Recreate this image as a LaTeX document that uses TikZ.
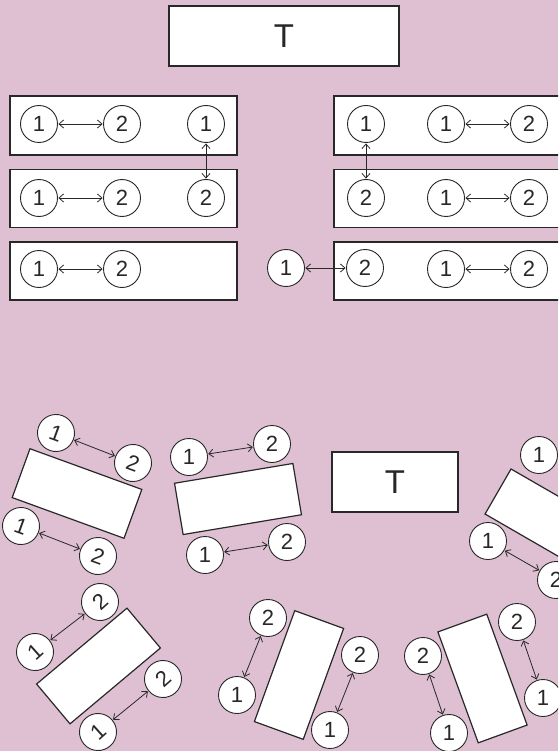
\documentclass[tikz,border=0pt]{standalone}
\usepackage{fontspec}
\setmainfont{Liberation Sans}
\usetikzlibrary{arrows.meta}
\definecolor{bgpink}{RGB}{222,192,210}
\definecolor{ink}{RGB}{40,40,40}
\tikzset{
  tbl/.style={draw=ink, line width=1.2pt, fill=white, rectangle, inner sep=0pt},
  seat/.style={draw=ink, line width=0.9pt, fill=white, circle, minimum size=37pt, inner sep=0pt, font=\fontsize{22}{22}\selectfont, text=ink},
  link/.style={draw=ink, line width=0.8pt, {Straight Barb[length=4.5pt,width=8pt]}-{Straight Barb[length=4.5pt,width=8pt]}, shorten <=0.5pt, shorten >=0.5pt},
  big/.style={font=\fontsize{33}{33}\selectfont, text=ink}
}
\begin{document}
\begin{tikzpicture}[x=1pt,y=-1pt]
\useasboundingbox (0,0) rectangle (558,751);
\fill[bgpink] (0,0) rectangle (558,751);
\clip (0,0) rectangle (558,751);
% top teacher desk
\node[tbl, minimum width=230pt, minimum height=60pt, big] (T1) at (284,36) {T};
% left block rows
\node[tbl, minimum width=227pt, minimum height=59pt] (L1) at (123.5,125.5) {};
\node[tbl, minimum width=227pt, minimum height=58pt] (L2) at (123.5,198.5) {};
\node[tbl, minimum width=227pt, minimum height=58pt] (L3) at (123.5,271) {};
% right block rows
\node[tbl, minimum width=240pt, minimum height=59pt] (R1) at (454,125.5) {};
\node[tbl, minimum width=240pt, minimum height=58pt] (R2) at (454,198.5) {};
\node[tbl, minimum width=240pt, minimum height=58pt] (R3) at (454,271) {};
% left block seats
\node[seat] (a1) at (39,124) {1};
\node[seat] (a2) at (122,124) {2};
\node[seat] (a3) at (206,124) {1};
\node[seat] (b1) at (39,198) {1};
\node[seat] (b2) at (122,198) {2};
\node[seat] (b3) at (206,198) {2};
\node[seat] (c1) at (39,269) {1};
\node[seat] (c2) at (122,269) {2};
\draw[link] (a1) -- (a2);
\draw[link] (b1) -- (b2);
\draw[link] (c1) -- (c2);
\draw[link] (a3) -- (b3);
% right block seats
\node[seat] (d1) at (366,124) {1};
\node[seat] (d2) at (446,124) {1};
\node[seat] (d3) at (529,124) {2};
\node[seat] (e1) at (366,198) {2};
\node[seat] (e2) at (446,198) {1};
\node[seat] (e3) at (529,198) {2};
\node[seat] (f0) at (286,268) {1};
\node[seat] (f1) at (365,268) {2};
\node[seat] (f2) at (446,269) {1};
\node[seat] (f3) at (529,269) {2};
\draw[link] (d2) -- (d3);
\draw[link] (e2) -- (e3);
\draw[link] (f2) -- (f3);
\draw[link] (d1) -- (e1);
\draw[link] (f0) -- (f1);
% bottom teacher desk
\node[tbl, minimum width=126pt, minimum height=60pt, big] (T2) at (395,482) {T};
% table 1
\node[tbl, minimum width=119pt, minimum height=52pt, rotate=-20] (t1) at (77,493.5) {};
\node[seat, rotate=-20] (g1) at (56,433) {1};
\node[seat, rotate=-20] (g2) at (133,463) {2};
\node[seat, rotate=-20] (g3) at (21,526) {1};
\node[seat, rotate=-20] (g4) at (98,556) {2};
\draw[link] (g1) -- (g2);
\draw[link] (g3) -- (g4);
% table 2
\node[tbl, minimum width=120pt, minimum height=52pt, rotate=9.5] (t2) at (238,499) {};
\node[seat] (h1) at (189,457) {1};
\node[seat] (h2) at (272,444) {2};
\node[seat] (h3) at (205,555) {1};
\node[seat] (h4) at (287,542) {2};
\draw[link] (h1) -- (h2);
\draw[link] (h3) -- (h4);
% table 3
\node[tbl, minimum width=120pt, minimum height=52pt, rotate=-30] (t3) at (550,521.5) {};
\node[seat] (i1) at (539,455) {1};
\node[seat] (i2) at (488,541) {1};
\node[seat] (i3) at (556,580) {2};
\draw[link] (i2) -- (i3);
% table 4
\node[tbl, minimum width=118pt, minimum height=52pt, rotate=40] (t4) at (98.5,666) {};
\node[seat, rotate=42] (j1) at (35,652) {1};
\node[seat, rotate=42] (j2) at (100,602) {2};
\node[seat, rotate=42] (j3) at (98,732) {1};
\node[seat, rotate=42] (j4) at (163,679) {2};
\draw[link] (j1) -- (j2);
\draw[link] (j3) -- (j4);
% table 5
\node[tbl, minimum width=118pt, minimum height=52pt, rotate=70] (t5) at (299,675) {};
\node[seat] (k1) at (268,618) {2};
\node[seat] (k2) at (237,695) {1};
\node[seat] (k3) at (360,655) {2};
\node[seat] (k4) at (330,730) {1};
\draw[link] (k2) -- (k1);
\draw[link] (k4) -- (k3);
% table 6
\node[tbl, minimum width=118pt, minimum height=52pt, rotate=-70] (t6) at (482.5,678.5) {};
\node[seat] (m1) at (423,656) {2};
\node[seat] (m2) at (449,733) {1};
\node[seat] (m3) at (517,622) {2};
\node[seat] (m4) at (543,698) {1};
\draw[link] (m1) -- (m2);
\draw[link] (m3) -- (m4);
\end{tikzpicture}
\end{document}
